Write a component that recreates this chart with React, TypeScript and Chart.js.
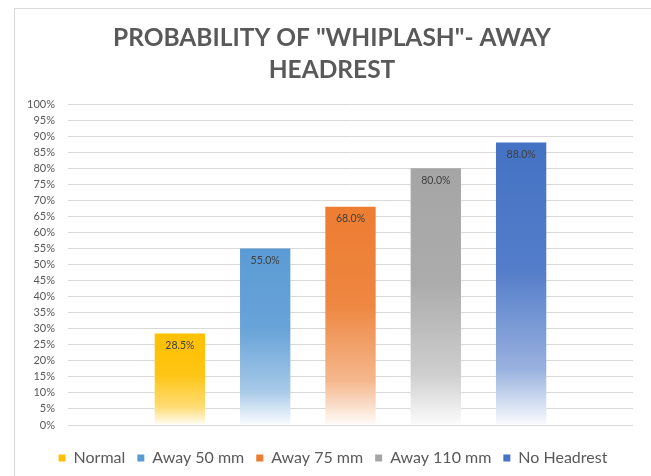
import React, { useEffect, useRef } from "react";
import { Chart, registerables } from "chart.js";

Chart.register(...registerables);

const categories = [""];
const seriesNames = ["Normal", "Away 50 mm", "Away 75 mm", "Away 110 mm", "No Headrest"];
const seriesValues = [0.285, 0.55, 0.68, 0.8, 0.88];
const seriesColors = ["#FFC000", "#5B9BD5", "#ED7D31", "#A5A5A5", "#4472C4"];
const titleLines = ['PROBABILITY OF "WHIPLASH"- AWAY', "HEADREST"];

function mix(hex: string, t: number, a = 1) {
  const r = parseInt(hex.slice(1, 3), 16);
  const g = parseInt(hex.slice(3, 5), 16);
  const b = parseInt(hex.slice(5, 7), 16);
  const m = (c: number) => Math.round(c + (255 - c) * t);
  return `rgba(${m(r)},${m(g)},${m(b)},${a})`;
}

const labelPlugin = {
  id: "barLabels",
  afterDatasetsDraw(chart: any) {
    const ctx = chart.ctx;
    ctx.save();
    ctx.font = "10.5px Lato, sans-serif";
    ctx.fillStyle = "#404040";
    ctx.textAlign = "center";
    ctx.textBaseline = "middle";
    chart.data.datasets.forEach((ds: any, i: number) => {
      const meta = chart.getDatasetMeta(i);
      meta.data.forEach((el: any, j: number) => {
        const v = ds.data[j];
        ctx.fillText((v * 100).toFixed(1) + "%", el.x, el.y + 12);
      });
    });
    ctx.restore();
  },
};

// Chart title and legend centred on the whole chart frame (Excel style)
const titlePlugin = {
  id: "frameTitle",
  beforeDraw(chart: any) {
    const lg = chart.legend;
    if (lg) {
      const shift = 9;
      lg.left += shift;
      lg.right += shift;
    }
  },
  afterDraw(chart: any) {
    const ctx = chart.ctx;
    ctx.save();
    ctx.font = "bold 24.5px Lato, sans-serif";
    ctx.fillStyle = "#595959";
    ctx.textAlign = "center";
    ctx.textBaseline = "middle";
    const cx = chart.width / 2 - 1.5;
    titleLines.forEach((line, i) => {
      ctx.fillText(line, cx, 29 + i * 32);
    });
    ctx.restore();
  },
};

export default function App() {
  const ref = useRef<HTMLCanvasElement>(null);
  useEffect(() => {
    if (!ref.current) return;
    const chart = new Chart(ref.current, {
      type: "bar",
      data: {
        labels: categories,
        datasets: seriesNames.map((name, i) => ({
          label: name,
          data: [seriesValues[i]],
          borderWidth: 0,
          backgroundColor: (c: any) => {
            const chart = c.chart;
            const ys = chart.scales && chart.scales.y;
            const color = seriesColors[i];
            if (!ys || !chart.chartArea) return color;
            const top = ys.getPixelForValue(seriesValues[i]);
            const bottom = ys.getPixelForValue(0);
            const g = chart.ctx.createLinearGradient(0, top, 0, bottom);
            g.addColorStop(0, mix(color, 0));
            g.addColorStop(0.45, mix(color, 0.08));
            g.addColorStop(0.8, mix(color, 0.45));
            g.addColorStop(1, mix(color, 0.97));
            return g;
          },
          categoryPercentage: 0.755,
          barPercentage: 0.59,
        })),
      },
      options: {
        animation: false,
        responsive: false,
        maintainAspectRatio: false,
        layout: { padding: { left: 0, right: 19, top: 95, bottom: 0 } },
        plugins: {
          title: { display: false },
          legend: {
            position: "bottom",
            labels: {
              color: "#595959",
              font: { family: "Lato, sans-serif", size: 16 },
              boxWidth: 7,
              boxHeight: 7,
              padding: 12,
              generateLabels: (chart: any) =>
                chart.data.datasets.map((ds: any, i: number) => ({
                  text: ds.label,
                  fillStyle: seriesColors[i],
                  strokeStyle: seriesColors[i],
                  lineWidth: 0,
                  hidden: false,
                  datasetIndex: i,
                  fontColor: "#595959",
                })),
            },
          },
          tooltip: { enabled: false },
        },
        scales: {
          x: {
            grid: { display: false },
            border: { display: false },
            ticks: { display: false },
            afterFit: (scale: any) => {
              scale.height = 13;
            },
          },
          y: {
            min: 0,
            max: 1,
            border: { display: false },
            grid: { color: "#d9d9d9", drawTicks: false },
            afterFit: (scale: any) => {
              scale.width = 53;
            },
            ticks: {
              stepSize: 0.05,
              autoSkip: false,
              color: "#595959",
              font: { family: "Lato, sans-serif", size: 11 },
              padding: 13,
              callback: (v: any) => Math.round(Number(v) * 100) + "%",
            },
          },
        },
      },
      plugins: [labelPlugin, titlePlugin],
    });
    return () => chart.destroy();
  }, []);
  return (
    <div
      style={{
        position: "absolute",
        left: 14,
        top: 8,
        width: 637,
        height: 468,
        borderLeft: "1px solid #d9d9d9",
        borderTop: "1px solid #d9d9d9",
        background: "#fff",
      }}
    >
      <canvas ref={ref} width={637} height={467} style={{ display: "block" }} />
    </div>
  );
}
